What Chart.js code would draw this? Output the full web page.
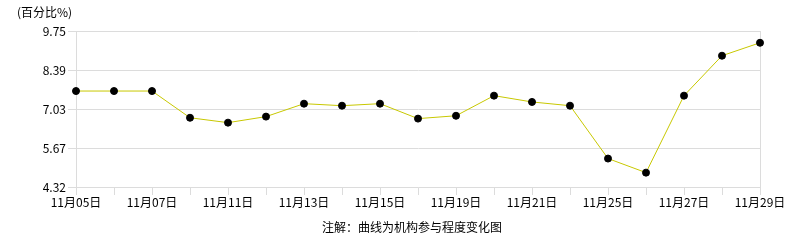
<!DOCTYPE html>
<html><head><meta charset="utf-8">
<script src="https://cdn.jsdelivr.net/npm/chart.js@4/dist/chart.umd.min.js"></script>
<style>html,body{margin:0;padding:0;background:#fff;}canvas{display:block;}</style>
</head><body>
<canvas id="c" width="786" height="240"></canvas>
<script>
const categories = ['11月05日','11月06日','11月07日','11月08日','11月11日','11月12日','11月13日','11月14日','11月15日','11月18日','11月19日','11月20日','11月21日','11月22日','11月25日','11月26日','11月27日','11月28日','11月29日'];
const values = [7.66,7.66,7.66,6.73,6.56,6.77,7.22,7.15,7.22,6.70,6.80,7.50,7.28,7.15,5.31,4.82,7.50,8.89,9.34];
const yTicks = [4.32,5.67,7.03,8.39,9.75];
const unitLabel = '(百分比%)';
const noteText = '注解：曲线为机构参与程度变化图';

const FONT = '"Noto Sans CJK SC", "DejaVu Sans", sans-serif';
const textPlugin = {
  id: 'texts',
  afterDraw(chart) {
    const ctx = chart.ctx;
    ctx.save();
    ctx.fillStyle = '#000';
    ctx.font = '12px ' + FONT;
    ctx.textBaseline = 'middle';
    ctx.textAlign = 'left';
    ctx.fillText(unitLabel, 17, 12);
    ctx.textAlign = 'center';
    ctx.fillText(noteText, 412, 227);
    ctx.restore();
  }
};

new Chart(document.getElementById('c'), {
  type: 'line',
  data: {
    labels: categories,
    datasets: [{
      data: values,
      borderColor: '#c8c800',
      borderWidth: 1,
      pointBackgroundColor: '#000',
      pointBorderColor: '#000',
      pointRadius: 3.5,
      pointBorderWidth: 1,
      tension: 0,
      fill: false
    }]
  },
  options: {
    responsive: false,
    animation: false,
    layout: { autoPadding: false, padding: { top: 31, right: 26, left: 0, bottom: 0 } },
    plugins: { legend: { display: false }, tooltip: { enabled: false } },
    scales: {
      x: {
        offset: false,
        afterFit: s => { s.height = 53; },
        grid: {
          drawOnChartArea: true,
          color: c => (c.index === categories.length - 1 ? '#dcdcdc' : 'rgba(0,0,0,0)'),
          tickColor: '#dcdcdc',
          tickLength: 8
        },
        border: { display: true, color: '#dcdcdc' },
        ticks: {
          autoSkip: false,
          maxRotation: 0,
          padding: 0,
          color: '#000',
          font: { size: 12, family: FONT },
          callback: function(v, i) { return i % 2 === 0 ? categories[i] : ''; }
        }
      },
      y: {
        min: 4.32,
        max: 9.75,
        afterFit: s => { s.width = 76; },
        afterBuildTicks: s => { s.ticks = yTicks.map(v => ({ value: v })); },
        grid: { color: '#dcdcdc', tickColor: '#dcdcdc', tickLength: 8 },
        border: { display: true, color: '#dcdcdc' },
        ticks: {
          padding: 2,
          color: '#000',
          font: { size: 12, family: FONT },
          callback: v => v.toFixed(2)
        }
      }
    }
  },
  plugins: [textPlugin]
});
</script>
</body></html>
